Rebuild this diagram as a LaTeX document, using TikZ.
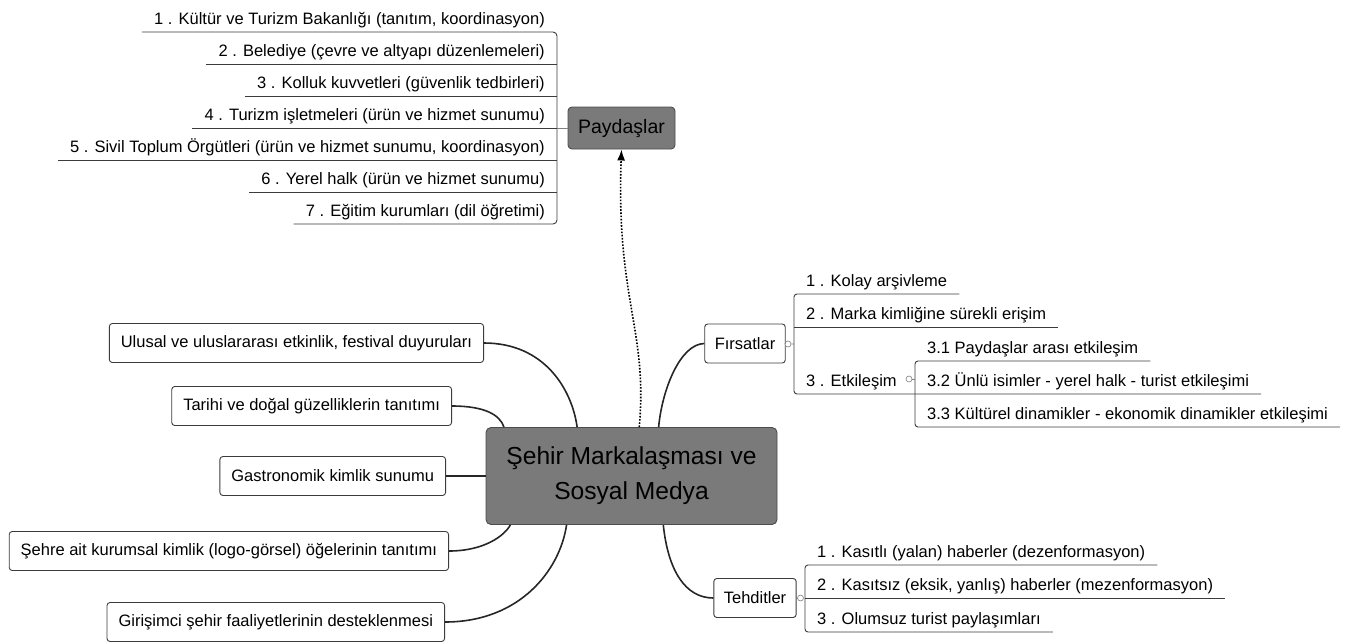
\documentclass[tikz,border=0pt]{standalone}
\usepackage{fontspec}
\setmainfont{Liberation Sans}
\usetikzlibrary{arrows.meta}

\definecolor{boxgray}{RGB}{122,122,122}
\definecolor{linegray}{RGB}{60,60,60}

\begin{document}
\begin{tikzpicture}[x=1pt, y=-1pt,
        leafbox/.style={draw=linegray, line width=0.9pt, fill=white, rounded corners=3pt,
            inner xsep=11.5pt, minimum height=39pt, font=\fontsize{16.5}{19}\selectfont},
        itembox/.style={inner xsep=12pt, inner ysep=3pt, text height=12pt, text depth=4pt,
            font=\fontsize{16.5}{19}\selectfont},
        topicbox/.style={draw=black!70, fill=boxgray, line width=0.9pt, align=center},
        branchline/.style={line width=1.6pt, black!85},
        uline/.style={line width=0.9pt, linegray},
        knob/.style={draw=gray, line width=0.6pt, fill=white, circle, inner sep=0pt, minimum size=6pt}]
            \useasboundingbox (0,0) rectangle (1349,643);
            \node[topicbox, rounded corners=5pt, minimum width=291pt, minimum height=97pt,
                font=\fontsize{24.6}{35}\selectfont] (city) at (631.5,476) {Şehir Markalaşması ve\\Sosyal Medya};
            \node[topicbox, rounded corners=4pt, minimum width=107pt, minimum height=42pt,
                font=\fontsize{19.5}{22}\selectfont] (pay) at (621.5,128) {Paydaşlar};

            \node[leafbox, anchor=east] (ulusal) at (484,343) {Ulusal ve uluslararası etkinlik, festival duyuruları};
            \node[leafbox, anchor=east] (tarihi) at (452,406) {Tarihi ve doğal güzelliklerin tanıtımı};
            \node[leafbox, anchor=east] (gastro) at (446,476) {Gastronomik kimlik sunumu};
            \node[leafbox, anchor=east] (logo) at (449,551) {Şehre ait kurumsal kimlik (logo-görsel) öğelerinin tanıtımı};
            \node[leafbox, anchor=east] (girisim) at (445,622) {Girişimci şehir faaliyetlerinin desteklenmesi};
            \node[leafbox, inner xsep=10pt] (firsat) at (745,343.5) {Fırsatlar};
            \node[leafbox, inner xsep=10pt] (tehdit) at (755,598) {Tehditler};

            \node[itembox, anchor=south east] (p1) at (557,32) {1 . Kültür ve Turizm Bakanlığı (tanıtım, koordinasyon)};
            \node[itembox, anchor=south east] (p2) at (557,64) {2 . Belediye (çevre ve altyapı düzenlemeleri)};
            \node[itembox, anchor=south east] (p3) at (557,96) {3 . Kolluk kuvvetleri (güvenlik tedbirleri)};
            \node[itembox, anchor=south east] (p4) at (557,128) {4 . Turizm işletmeleri (ürün ve hizmet sunumu)};
            \node[itembox, anchor=south east] (p5) at (557,160) {5 . Sivil Toplum Örgütleri (ürün ve hizmet sunumu, koordinasyon)};
            \node[itembox, anchor=south east] (p6) at (557,192) {6 . Yerel halk (ürün ve hizmet sunumu)};
            \node[itembox, anchor=south east] (p7) at (557,224) {7 . Eğitim kurumları (dil öğretimi)};

            \node[itembox, anchor=south west] (f1) at (794,294) {1 . Kolay arşivleme};
            \node[itembox, anchor=south west] (f2) at (794,327) {2 . Marka kimliğine sürekli erişim};
            \node[itembox, anchor=south west] (f3) at (794,394) {3 . Etkileşim};
            \node[itembox, anchor=south west] (f31) at (915,361) {3.1 Paydaşlar arası etkileşim};
            \node[itembox, anchor=south west] (f32) at (915,394) {3.2 Ünlü isimler - yerel halk - turist etkileşimi};
            \node[itembox, anchor=south west] (f33) at (915,427) {3.3 Kültürel dinamikler - ekonomik dinamikler etkileşimi};

            \node[itembox, anchor=south west] (t1) at (805,565) {1 . Kasıtlı (yalan) haberler (dezenformasyon)};
            \node[itembox, anchor=south west] (t2) at (805,598) {2 . Kasıtsız (eksik, yanlış) haberler (mezenformasyon)};
            \node[itembox, anchor=south west] (t3) at (805,632) {3 . Olumsuz turist paylaşımları};

            \node[knob] (fk) at (788,344) {};
            \node[knob] (ek) at (909,379) {};
            \node[knob] (tk) at (800.5,598) {};

            \draw[uline, rounded corners=4pt] (p1.south west) -- (p1.south east) -- (p7.south east) -- (p7.south west);
            \draw[uline] (p2.south west) -- (p2.south east);
            \draw[uline] (p3.south west) -- (p3.south east);
            \draw[uline] (p4.south west) -- (p4.south east);
            \draw[uline] (p5.south west) -- (p5.south east);
            \draw[uline] (p6.south west) -- (p6.south east);
            \draw[gray, line width=0.6pt] (p4.south east) -- (pay.west);

            \draw[uline, rounded corners=3pt] (f1.south east) -- (f1.south west) -- (f3.south west) -- (f32.south east);
            \draw[uline] (f2.south west) -- (f2.south east);
            \draw[uline, rounded corners=3pt] (f31.south east) -- (f31.south west) -- (f33.south west) -- (f33.south east);
            \draw[gray, line width=0.6pt] (firsat.east) -- (fk) -- (fk -| f1.south west);
            \draw[gray, line width=0.6pt] (ek) -- (ek -| f31.south west);

            \draw[uline, rounded corners=3pt] (t1.south east) -- (t1.south west) -- (t3.south west) -- (t3.south east);
            \draw[uline] (t2.south west) -- (t2.south east);
            \draw[gray, line width=0.6pt] (tehdit.east) -- (tk);

            \draw[branchline] (ulusal.east) .. controls (545,343) and (572,390) .. (city.138);
            \draw[branchline] (tarihi.east) .. controls (485,406) and (500,415) .. (city.159);
            \draw[branchline] (gastro.east) -- (city.west);
            \draw[branchline] (logo.east) .. controls (485,551) and (505,535) .. (city.202);
            \draw[branchline] (girisim.east) .. controls (520,622) and (560,570) .. (city.217);
            \draw[branchline] (city.61) .. controls (662,390) and (680,344) .. (firsat.west);
            \draw[branchline] (city.303) .. controls (668,570) and (685,598) .. (tehdit.west);
            \draw[line width=1.6pt, dash pattern=on 1.6pt off 1.6pt, -{Latex[length=11pt, width=8pt]}]
                (city.81) .. controls (648,330) and (616,300) .. (pay.south);
        \end{tikzpicture}
\end{document}
